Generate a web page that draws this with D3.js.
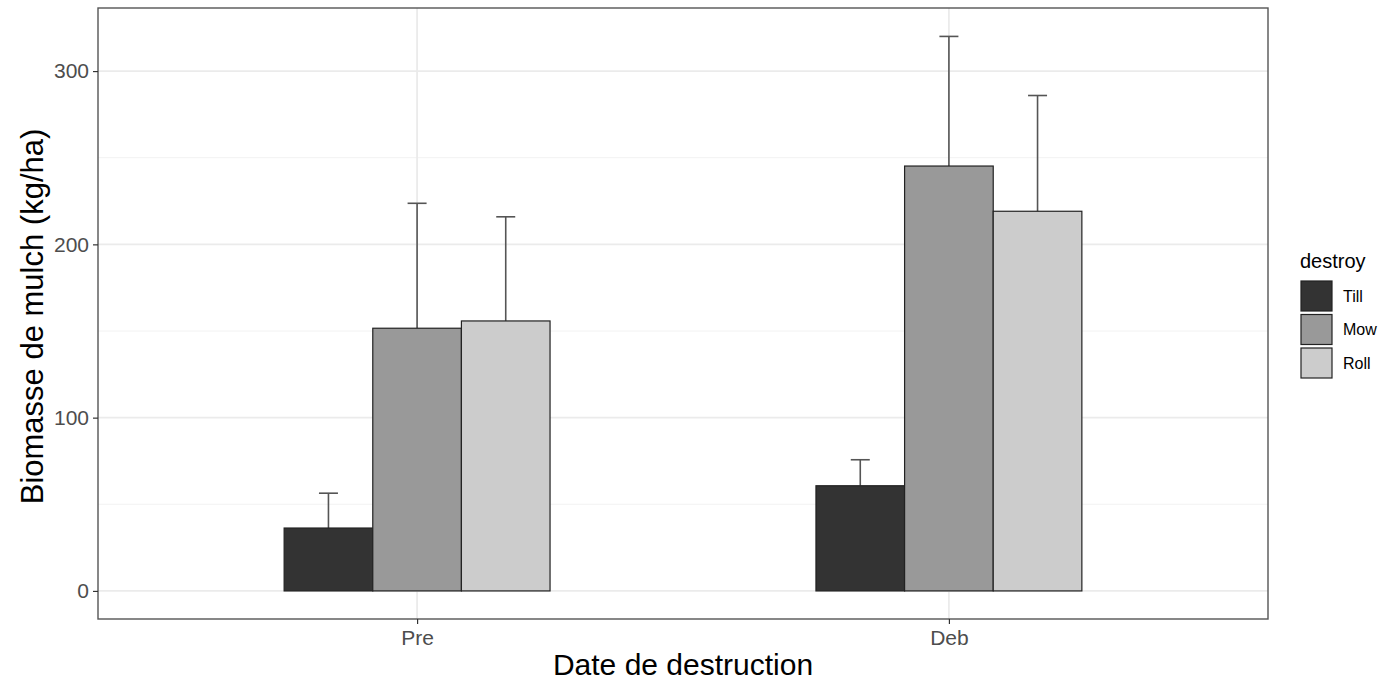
<!DOCTYPE html>
<html>
<head>
<meta charset="utf-8">
<script src="https://cdn.jsdelivr.net/npm/d3@7"></script>
<style>
  body { margin: 0; background: #fff; }
  svg { font-family: "Liberation Sans", Arial, sans-serif; }
</style>
</head>
<body>
<svg id="chart" width="1388" height="683"></svg>
<script>
// data
const dates = ["Pre", "Deb"];
const treatments = ["Till", "Mow", "Roll"];
const meanValues = {
  Pre: [36.3, 151.6, 155.8],
  Deb: [60.7, 245.2, 219.1]
};
const upperValues = {
  Pre: [56.4, 223.7, 215.9],
  Deb: [75.7, 320.0, 285.9]
};
const yTicks = [0, 100, 200, 300];
const yMinorTicks = [50, 150, 250];
const fills = ["#333333", "#999999", "#cccccc"];

const svg = d3.select("#chart");
const panel = { left: 98, right: 1268, top: 8, bottom: 619 };

// ggplot-like discrete axis: 0.6 unit expansion on each side
const xCat = d3.scalePoint()
  .domain(dates)
  .range([panel.left, panel.right])
  .padding(0.6);
const step = xCat.step();
const barW = step * 0.5 / 3;

const y = d3.scaleLinear()
  .domain([-16.2, 336.4])
  .range([panel.bottom, panel.top]);

// grid
const grid = svg.append("g");
grid.selectAll("line.minor")
  .data(yMinorTicks)
  .join("line")
  .attr("x1", panel.left).attr("x2", panel.right)
  .attr("y1", d => y(d)).attr("y2", d => y(d))
  .attr("stroke", "#f2f2f2").attr("stroke-width", 1);
grid.selectAll("line.major")
  .data(yTicks)
  .join("line")
  .attr("x1", panel.left).attr("x2", panel.right)
  .attr("y1", d => y(d)).attr("y2", d => y(d))
  .attr("stroke", "#ebebeb").attr("stroke-width", 1.8);
grid.selectAll("line.vmajor")
  .data(dates)
  .join("line")
  .attr("x1", d => xCat(d)).attr("x2", d => xCat(d))
  .attr("y1", panel.top).attr("y2", panel.bottom)
  .attr("stroke", "#ebebeb").attr("stroke-width", 1.8);

// bars
const rows = dates.flatMap(d => treatments.map((t, i) => ({
  date: d, treat: t, i, value: meanValues[d][i], upper: upperValues[d][i]
})));
const xBar = r => xCat(r.date) - step * 0.25 + r.i * barW;

svg.append("g").selectAll("line")
  .data(rows)
  .join("line")
  .attr("x1", r => xBar(r) + barW / 2).attr("x2", r => xBar(r) + barW / 2)
  .attr("y1", r => y(r.value)).attr("y2", r => y(r.upper))
  .attr("stroke", "#555").attr("stroke-width", 1.6);
svg.append("g").selectAll("line")
  .data(rows)
  .join("line")
  .attr("x1", r => xBar(r) + barW / 2 - 9.5).attr("x2", r => xBar(r) + barW / 2 + 9.5)
  .attr("y1", r => y(r.upper)).attr("y2", r => y(r.upper))
  .attr("stroke", "#555").attr("stroke-width", 1.6);

svg.append("g").selectAll("rect")
  .data(rows)
  .join("rect")
  .attr("x", r => xBar(r))
  .attr("y", r => y(r.value))
  .attr("width", barW)
  .attr("height", r => y(0) - y(r.value))
  .attr("fill", r => fills[r.i])
  .attr("stroke", "#222").attr("stroke-width", 1.2);

// panel border
svg.append("rect")
  .attr("x", panel.left).attr("y", panel.top)
  .attr("width", panel.right - panel.left).attr("height", panel.bottom - panel.top)
  .attr("fill", "none").attr("stroke", "#555").attr("stroke-width", 1.4);

// axes
const yAxis = svg.append("g")
  .attr("transform", `translate(${panel.left},0)`)
  .call(d3.axisLeft(y).tickValues(yTicks).tickSize(5).tickPadding(4));
const xAxis = svg.append("g")
  .attr("transform", `translate(0,${panel.bottom})`)
  .call(d3.axisBottom(xCat).tickSize(5).tickPadding(6));
[yAxis, xAxis].forEach(a => {
  a.select(".domain").remove();
  a.selectAll(".tick line").attr("stroke", "#333").attr("stroke-width", 1.2);
  a.selectAll(".tick text")
    .attr("fill", "#4d4d4d")
    .style("font-size", "21px")
    .style("font-family", "'Liberation Sans', Arial, sans-serif");
});

// axis titles
svg.append("text")
  .attr("x", (panel.left + panel.right) / 2).attr("y", 675)
  .attr("text-anchor", "middle")
  .style("font-size", "30px")
  .text("Date de destruction");
svg.append("text")
  .attr("transform", `translate(43,${(panel.top + panel.bottom) / 2 + 3}) rotate(-90)`)
  .attr("text-anchor", "middle")
  .style("font-size", "31px")
  .text("Biomasse de mulch (kg/ha)");

// legend
const legend = svg.append("g").attr("transform", "translate(1301,250)");
legend.append("text")
  .attr("x", -1).attr("y", 18)
  .style("font-size", "20px")
  .text("destroy");
const keys = legend.selectAll("g.key")
  .data(treatments)
  .join("g")
  .attr("transform", (d, i) => `translate(0,${31 + i * 33.5})`);
keys.append("rect")
  .attr("width", 31).attr("height", 30)
  .attr("fill", (d, i) => fills[i])
  .attr("stroke", "#222").attr("stroke-width", 1.2);
keys.append("text")
  .attr("x", 42).attr("y", 15)
  .attr("dy", "0.35em")
  .style("font-size", "16px")
  .text(d => d);
</script>
</body>
</html>
